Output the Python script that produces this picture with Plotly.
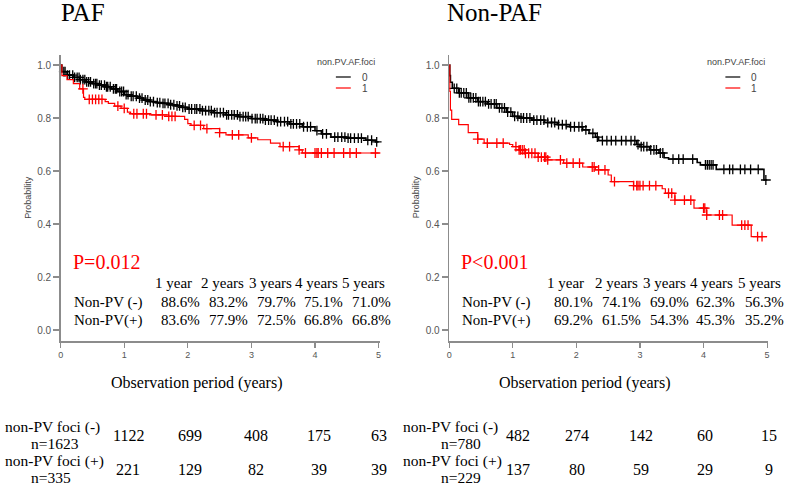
import numpy as np
import plotly.graph_objects as go

W, H = 788, 485

# ---------------- data ----------------
panels = ["PAF", "Non-PAF"]
p_values = ["P=0.012", "P<0.001"]
legend_title = "non.PV.AF.foci"
group_labels = ["0", "1"]

# PAF, non-PV foci (-)  (group 0)
paf0_t = [0, 0.02, 0.1, 0.2, 0.3, 0.4, 0.5, 0.6, 0.7, 0.8, 0.9, 1.0, 1.1, 1.2, 1.3, 1.4, 1.5, 1.6,
          1.7, 1.8, 1.9, 2.0, 2.2, 2.4, 2.6, 2.8, 3.0, 3.2, 3.4, 3.6, 3.8, 4.0, 4.1, 4.25, 4.5, 4.8, 4.95, 5.0]
paf0_s = [1.0, 0.975, 0.962, 0.953, 0.945, 0.936, 0.930, 0.924, 0.918, 0.910, 0.900, 0.888, 0.882, 0.875,
          0.868, 0.862, 0.858, 0.855, 0.850, 0.846, 0.840, 0.834, 0.828, 0.820, 0.812, 0.805, 0.798, 0.792,
          0.786, 0.778, 0.767, 0.752, 0.740, 0.728, 0.724, 0.716, 0.710, 0.710]
paf0_cens = [0.05, 0.07, 0.11, 0.14, 0.19, 0.22, 0.26, 0.29, 0.31, 0.35, 0.38, 0.41, 0.44, 0.47, 0.52, 0.55,
             0.57, 0.61, 0.64, 0.69, 0.72, 0.74, 0.78, 0.83, 0.86, 0.88, 0.93, 0.96, 0.99, 1.03, 1.06, 1.11,
             1.14, 1.19, 1.24, 1.28, 1.33, 1.37, 1.41, 1.46, 1.52, 1.56, 1.61, 1.64, 1.69, 1.73, 1.78, 1.83,
             1.87, 1.92, 1.96, 2.02, 2.06, 2.11, 2.14, 2.19, 2.23, 2.28, 2.33, 2.37, 2.42, 2.46, 2.51, 2.56,
             2.61, 2.64, 2.69, 2.73, 2.78, 2.82, 2.87, 2.91, 2.95, 3.01, 3.06, 3.09, 3.14, 3.18, 3.22, 3.27,
             3.31, 3.36, 3.41, 3.46, 3.52, 3.57, 3.62, 3.66, 3.71, 3.76, 3.82, 3.88, 3.93, 4.03, 4.12, 4.18,
             4.31, 4.36, 4.42, 4.47, 4.52, 4.56, 4.62, 4.68, 4.73, 4.83, 4.89, 4.97]

# PAF, non-PV foci (+)  (group 1)
paf1_t = [0, 0.02, 0.1, 0.2, 0.3, 0.36, 0.38, 0.7, 0.75, 0.85, 0.95, 1.05, 1.1, 1.4, 1.7, 1.95, 2.0, 2.05,
          2.25, 2.5, 2.6, 2.95, 3.1, 3.3, 3.45, 3.75, 3.8, 5.0]
paf1_s = [1.0, 0.960, 0.945, 0.930, 0.910, 0.878, 0.870, 0.862, 0.855, 0.845, 0.836, 0.822, 0.816, 0.812,
          0.806, 0.795, 0.779, 0.772, 0.760, 0.745, 0.736, 0.725, 0.718, 0.705, 0.692, 0.680, 0.668, 0.668]
paf1_cens = [0.35, 0.45, 0.5, 0.55, 0.6, 0.65, 0.9, 1.0, 1.15, 1.2, 1.3, 1.35, 1.5, 1.6, 1.7, 1.75, 1.8,
             2.1, 2.2, 2.3, 2.5, 2.7, 2.8, 3.0, 3.5, 3.6, 3.75, 3.85, 4.0, 4.03, 4.05, 4.1, 4.2, 4.3, 4.45,
             4.55, 4.65, 4.95]

# Non-PAF, non-PV foci (-)  (group 0)
npaf0_t = [0, 0.01, 0.02, 0.05, 0.15, 0.3, 0.45, 0.6, 0.75, 0.9, 1.0, 1.1, 1.3, 1.5, 1.7, 1.9, 2.1, 2.2,
           2.3, 2.35, 2.95, 3.0, 3.15, 3.3, 3.38, 3.45, 3.9, 3.95, 4.2, 4.95, 5.0]
npaf0_s = [1.0, 0.960, 0.935, 0.912, 0.895, 0.876, 0.862, 0.853, 0.838, 0.822, 0.806, 0.800, 0.792, 0.783,
           0.775, 0.767, 0.755, 0.742, 0.728, 0.715, 0.700, 0.692, 0.680, 0.668, 0.650, 0.645, 0.632, 0.623,
           0.606, 0.566, 0.566]
npaf0_cens = [0.08, 0.12, 0.16, 0.19, 0.23, 0.27, 0.31, 0.34, 0.38, 0.42, 0.46, 0.49, 0.53, 0.57, 0.62,
              0.66, 0.71, 0.74, 0.79, 0.83, 0.87, 0.92, 0.97, 1.03, 1.08, 1.13, 1.17, 1.22, 1.27, 1.33, 1.38,
              1.44, 1.49, 1.55, 1.61, 1.66, 1.72, 1.78, 1.84, 1.91, 1.97, 2.04, 2.09, 2.15, 2.26, 2.33, 2.41,
              2.48, 2.55, 2.62, 2.71, 2.78, 2.86, 2.92, 2.97, 3.02, 3.06, 3.11, 3.17, 3.22, 3.26, 3.32, 3.36,
              3.52, 3.61, 3.68, 3.83, 4.03, 4.06, 4.09, 4.12, 4.15, 4.32, 4.41, 4.46, 4.58, 4.65, 4.74, 4.86,
              4.98]

# Non-PAF, non-PV foci (+)  (group 1)
npaf1_t = [0, 0.01, 0.02, 0.04, 0.15, 0.3, 0.45, 0.55, 0.95, 1.0, 1.1, 1.2, 1.4, 1.55, 1.8, 2.1, 2.3, 2.5,
           2.55, 2.9, 3.35, 3.4, 3.55, 3.85, 4.05, 4.45, 4.75, 5.0]
npaf1_s = [1.0, 0.900, 0.830, 0.795, 0.775, 0.745, 0.720, 0.705, 0.700, 0.692, 0.680, 0.667, 0.652, 0.642,
           0.630, 0.615, 0.604, 0.585, 0.560, 0.545, 0.533, 0.516, 0.490, 0.460, 0.434, 0.396, 0.352, 0.352]
npaf1_cens = [0.45, 0.6, 0.75, 0.85, 1.05, 1.1, 1.12, 1.15, 1.18, 1.2, 1.25, 1.3, 1.35, 1.4, 1.45, 1.5,
              1.52, 1.55, 1.75, 1.85, 1.95, 2.05, 2.25, 2.28, 2.35, 2.45, 2.6, 2.9, 2.95, 2.97, 3.0, 3.05,
              3.15, 3.25, 3.45, 3.5, 3.55, 3.7, 3.8, 4.0, 4.02, 4.05, 4.25, 4.3, 4.6, 4.65, 4.7, 4.85, 4.92]

# survival tables
year_labels = ["1 year", "2 years", "3 years", "4 years", "5 years"]
row_labels = ["Non-PV (-)", "Non-PV(+)"]
paf_table = [["88.6%", "83.2%", "79.7%", "75.1%", "71.0%"],
             ["83.6%", "77.9%", "72.5%", "66.8%", "66.8%"]]
npaf_table = [["80.1%", "74.1%", "69.0%", "62.3%", "56.3%"],
              ["69.2%", "61.5%", "54.3%", "45.3%", "35.2%"]]

# numbers at risk
risk_labels_paf = [("non-PV foci (-)", "n=1623"), ("non-PV foci (+)", "n=335")]
risk_labels_npaf = [("non-PV foci (-)", "n=780"), ("non-PV foci (+)", "n=229")]
paf_risk = [[1122, 699, 408, 175, 63], [221, 129, 82, 39, 39]]
npaf_risk = [[482, 274, 142, 60, 15], [137, 80, 59, 29, 9]]

colors = ["#000000", "#ff0000"]
SERIF = "Liberation Serif, Times New Roman, serif"
SANS = "Liberation Sans, Arial, sans-serif"
AXC = "#8c8c8c"


def px(x):
    return x / W


def py(y):
    return 1 - y / H


def step_at(t_arr, s_arr, tc):
    t_arr = np.asarray(t_arr)
    s_arr = np.asarray(s_arr)
    idx = np.searchsorted(t_arr, np.asarray(tc), side="right") - 1
    return s_arr[np.clip(idx, 0, len(s_arr) - 1)]


fig = go.Figure()

curves = [
    [(paf0_t, paf0_s, paf0_cens), (paf1_t, paf1_s, paf1_cens)],
    [(npaf0_t, npaf0_s, npaf0_cens), (npaf1_t, npaf1_s, npaf1_cens)],
]
axes = [("x", "y"), ("x2", "y2")]
line_w = [1.6, 1.2]

for p, (xa, ya) in enumerate(axes):
    for g, (t, s, c) in enumerate(curves[p]):
        fig.add_trace(go.Scatter(x=t, y=s, mode="lines", line=dict(color=colors[g], width=line_w[g], shape="hv"),
                                 xaxis=xa, yaxis=ya, showlegend=False, cliponaxis=False, hoverinfo="skip"))
        fig.add_trace(go.Scatter(x=c, y=step_at(t, s, c), mode="markers",
                                 marker=dict(symbol="cross-thin", size=7,
                                             line=dict(color=colors[g], width=1.3)),
                                 xaxis=xa, yaxis=ya, showlegend=False, cliponaxis=False, hoverinfo="skip"))

xr = [0, 5 * 321 / 320]
yr = [-11 / 265, 1 + 10 / 265]
ydom = [py(341), py(55)]
common_x = dict(range=xr, tickvals=[0, 1, 2, 3, 4, 5], showline=True, linecolor=AXC, linewidth=1.5,
                ticks="outside", ticklen=5, tickcolor=AXC, tickwidth=1.2, showgrid=False, zeroline=False,
                tickfont=dict(family=SANS, size=9, color="#555555"), fixedrange=True)
common_y = dict(range=yr, domain=ydom, tickvals=[0, 0.2, 0.4, 0.6, 0.8, 1.0], tickformat=".1f",
                showline=True, linecolor=AXC, linewidth=1.5, ticks="outside", ticklen=6, tickcolor=AXC,
                tickwidth=1.2, showgrid=False, zeroline=False,
                tickfont=dict(family=SANS, size=10, color="#555555"), fixedrange=True)

fig.update_layout(
    width=W, height=H, margin=dict(l=0, r=0, t=0, b=0),
    paper_bgcolor="white", plot_bgcolor="white",
    xaxis=dict(domain=[px(58), px(379)], anchor="y", **common_x),
    yaxis=dict(anchor="x", **common_y),
    xaxis2=dict(domain=[px(449), px(770)], anchor="y2", **common_x),
    yaxis2=dict(anchor="x2", **common_y),
)

ann = []
shapes = []


def text(x, y, s, size, family=SERIF, color="black", xanchor="center", angle=0):
    ann.append(dict(x=px(x), y=py(y), xref="paper", yref="paper", text=s, showarrow=False,
                    xanchor=xanchor, yanchor="middle", align="center", textangle=angle, borderpad=0,
                    font=dict(family=family, size=size, color=color)))


# panel geometry (pixel left offsets)
panel_x0 = [58, 449]
title_x = [57, 446]
for p in range(2):
    x0 = panel_x0[p]
    text(title_x[p], 12, panels[p], 25, xanchor="left")
    text(x0 - 33, 197, "Probability", 9, family=SANS, color="#444444", angle=-90)
    text(x0 + 137, 383, "Observation period (years)", 16)
    text(x0 + 11, 262, p_values[p], 20, color="#ff0000", xanchor="left")
    # legend
    lx = [315, 707][p]
    text(lx, 62, legend_title, 9, family=SANS, color="#444444", xanchor="left")
    for g in range(2):
        yy = 77 + 11 * g
        shapes.append(dict(type="line", xref="paper", yref="paper", x0=px(lx + 20), x1=px(lx + 35),
                           y0=py(yy), y1=py(yy), line=dict(color=colors[g], width=1.2)))
        text(lx + 45, yy, group_labels[g], 10, family=SANS, color="#444444", xanchor="left")

# survival table
hdr_x = [[172, 221, 269, 316, 363], [566, 617, 666, 713, 761]]
val_x = [[179, 227, 275, 323, 371], [574, 622, 671, 717, 766]]
tables = [paf_table, npaf_table]
for p in range(2):
    for j, lab in enumerate(year_labels):
        text(hdr_x[p][j], 283, lab, 15)
    for r in range(2):
        text(panel_x0[p] + 12, 302 + 18 * r, row_labels[r], 15, xanchor="left")
        for j in range(5):
            text(val_x[p][j], 302 + 18 * r, tables[p][r][j], 15)

# numbers at risk
risk_lab_left = [[1, 27], [402, 440]]
risk_num_x = [[126, 188, 255, 318, 378], [518, 578, 642, 706, 771]]
risk_labels = [risk_labels_paf, risk_labels_npaf]
risks = [paf_risk, npaf_risk]
for p in range(2):
    for r in range(2):
        base = 427 + 34 * r
        text(risk_lab_left[p][0], base, risk_labels[p][r][0], 15.5, xanchor="left")
        text(risk_lab_left[p][1], base + 16, risk_labels[p][r][1], 15.5, xanchor="left")
        for j in range(5):
            text(risk_num_x[p][j], base + 8, str(risks[p][r][j]), 16)

fig.update_layout(annotations=ann, shapes=shapes)
fig.write_html("out.html", config={"displayModeBar": False, "staticPlot": True})

# remove the default page margin so the figure sits at the window's top-left corner
with open("out.html", "r", encoding="utf-8") as f:
    html = f.read()
html = html.replace("<head>", "<head><style>html,body{margin:0;padding:0;overflow:hidden;}</style>", 1)
with open("out.html", "w", encoding="utf-8") as f:
    f.write(html)
